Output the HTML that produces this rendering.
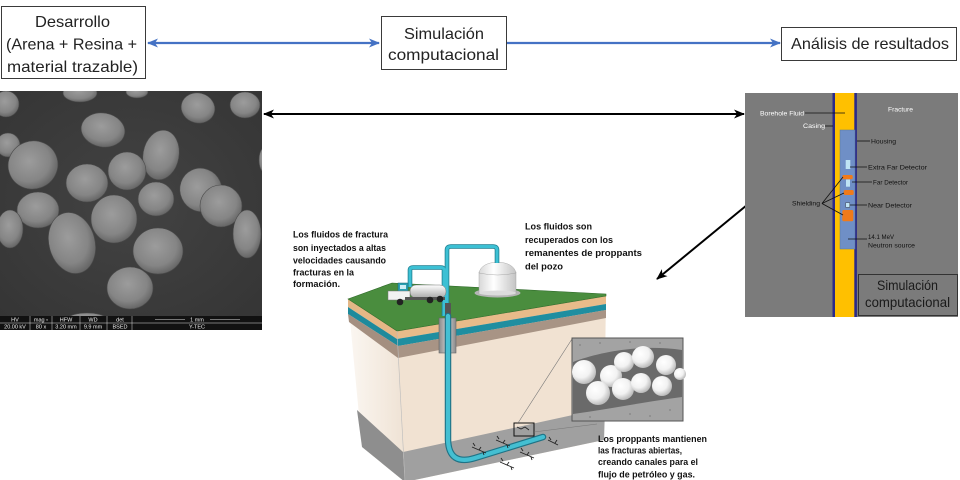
<!DOCTYPE html>
<html><head><meta charset="utf-8"><style>
html,body{margin:0;padding:0;background:#fff;}
svg{display:block;}
</style></head><body>
<svg width="960" height="480" viewBox="0 0 960 480" xmlns="http://www.w3.org/2000/svg">
<defs>
  <marker id="ab" markerUnits="userSpaceOnUse" markerWidth="11" markerHeight="10" refX="10" refY="5" orient="auto-start-reverse">
    <path d="M0,0.5 L11,5 L0,9.5 L3,5 Z" fill="#4472c4"/>
  </marker>
  <marker id="ak" markerUnits="userSpaceOnUse" markerWidth="11" markerHeight="10" refX="10" refY="5" orient="auto-start-reverse">
    <path d="M0,0.5 L11,5 L0,9.5 L3,5 Z" fill="#000"/>
  </marker>
  <radialGradient id="blob" cx="45%" cy="40%" r="60%">
    <stop offset="0" stop-color="#9c9c9c"/>
    <stop offset="0.7" stop-color="#858585"/>
    <stop offset="1" stop-color="#666"/>
  </radialGradient>
  <radialGradient id="semBg" cx="50%" cy="50%" r="70%">
    <stop offset="0" stop-color="#434343"/>
    <stop offset="1" stop-color="#353535"/>
  </radialGradient>
  <radialGradient id="sph" cx="38%" cy="35%" r="65%">
    <stop offset="0" stop-color="#ffffff"/>
    <stop offset="0.6" stop-color="#f2f2f2"/>
    <stop offset="1" stop-color="#bdbdbd"/>
  </radialGradient>
  <linearGradient id="casing" x1="0" x2="1" y1="0" y2="0">
    <stop offset="0" stop-color="#8a8a8a"/>
    <stop offset="0.5" stop-color="#d0d0d0"/>
    <stop offset="1" stop-color="#8a8a8a"/>
  </linearGradient>
  <linearGradient id="tank" x1="0" x2="0" y1="0" y2="1">
    <stop offset="0" stop-color="#ffffff"/>
    <stop offset="1" stop-color="#a9a9a9"/>
  </linearGradient>
  <linearGradient id="domeg" x1="0" x2="1" y1="0" y2="0">
    <stop offset="0" stop-color="#d8d8d8"/>
    <stop offset="0.4" stop-color="#ffffff"/>
    <stop offset="1" stop-color="#c4c4c4"/>
  </linearGradient>
  <linearGradient id="leftCream" x1="0" x2="1" y1="0" y2="0">
    <stop offset="0" stop-color="#fbf7f2"/>
    <stop offset="1" stop-color="#efe2d4"/>
  </linearGradient>
  <clipPath id="semClip"><rect x="0" y="91" width="262" height="226"/></clipPath>
</defs>

<!-- ===== Top flow boxes ===== -->
<rect x="1.5" y="6.5" width="144" height="72" fill="#fff" stroke="#3a3a3a" stroke-width="1"/>
<g font-family="Liberation Sans, Arial, sans-serif" font-size="16" fill="#222">
  <text x="35" y="27" textLength="75" lengthAdjust="spacingAndGlyphs">Desarrollo</text>
  <text x="6" y="49.5" textLength="131" lengthAdjust="spacingAndGlyphs">(Arena + Resina +</text>
  <text x="7" y="72" textLength="131" lengthAdjust="spacingAndGlyphs">material trazable)</text>
</g>
<rect x="381.5" y="16.5" width="125" height="53" fill="#fff" stroke="#3a3a3a" stroke-width="1"/>
<g font-family="Liberation Sans, Arial, sans-serif" font-size="16" fill="#222">
  <text x="404" y="39" textLength="80" lengthAdjust="spacingAndGlyphs">Simulación</text>
  <text x="388" y="60" textLength="111" lengthAdjust="spacingAndGlyphs">computacional</text>
</g>
<rect x="781.5" y="27.5" width="175" height="33" fill="#fff" stroke="#3a3a3a" stroke-width="1"/>
<text x="791" y="49" font-family="Liberation Sans, Arial, sans-serif" font-size="16" fill="#222" textLength="158" lengthAdjust="spacingAndGlyphs">Análisis de resultados</text>

<!-- blue arrows -->
<line x1="148" y1="43" x2="379" y2="43" stroke="#4472c4" stroke-width="2.2" marker-start="url(#ab)" marker-end="url(#ab)"/>
<line x1="507" y1="43" x2="780" y2="43" stroke="#4472c4" stroke-width="2.2" marker-end="url(#ab)"/>

<!-- ===== SEM image ===== -->
<rect x="0" y="91" width="262" height="226" fill="url(#semBg)"/>
<g fill="url(#blob)" stroke="#4a4a4a" stroke-width="0.6" clip-path="url(#semClip)">
  <ellipse cx="6" cy="104" rx="13" ry="13"/>
  <ellipse cx="80" cy="93" rx="17" ry="9"/>
  <ellipse cx="137" cy="92" rx="11" ry="6"/>
  <ellipse cx="198" cy="108" rx="17" ry="15" transform="rotate(15 198 108)"/>
  <ellipse cx="245" cy="105" rx="15" ry="13"/>
  <ellipse cx="103" cy="130" rx="22" ry="17" transform="rotate(10 103 130)"/>
  <ellipse cx="8" cy="145" rx="12" ry="12"/>
  <ellipse cx="33" cy="165" rx="25" ry="24" transform="rotate(-20 33 165)"/>
  <ellipse cx="161" cy="155" rx="18" ry="25" transform="rotate(10 161 155)"/>
  <ellipse cx="127" cy="171" rx="19" ry="19"/>
  <ellipse cx="87" cy="183" rx="21" ry="19"/>
  <ellipse cx="156" cy="199" rx="18" ry="17"/>
  <ellipse cx="201" cy="190" rx="21" ry="22" transform="rotate(-25 201 190)"/>
  <ellipse cx="221" cy="206" rx="21" ry="21"/>
  <ellipse cx="38" cy="210" rx="21" ry="18"/>
  <ellipse cx="114" cy="219" rx="23" ry="24"/>
  <ellipse cx="10" cy="229" rx="13" ry="19"/>
  <ellipse cx="72" cy="243" rx="23" ry="31" transform="rotate(-15 72 243)"/>
  <ellipse cx="247" cy="234" rx="14" ry="24"/>
  <ellipse cx="158" cy="251" rx="25" ry="23"/>
  <ellipse cx="130" cy="288" rx="23" ry="21"/>
  <ellipse cx="87" cy="318" rx="18" ry="5"/>
  <ellipse cx="264" cy="160" rx="5" ry="12"/>
</g>
<!-- info bar -->
<rect x="0" y="316" width="262" height="14" fill="#111"/>
<g stroke="#ddd" stroke-width="0.5">
  <line x1="0" y1="323" x2="262" y2="323"/>
  <line x1="30" y1="316" x2="30" y2="330"/>
  <line x1="52" y1="316" x2="52" y2="330"/>
  <line x1="80" y1="316" x2="80" y2="330"/>
  <line x1="107" y1="316" x2="107" y2="330"/>
  <line x1="132" y1="316" x2="132" y2="330"/>
  <line x1="155" y1="319.5" x2="185" y2="319.5"/>
  <line x1="210" y1="319.5" x2="240" y2="319.5"/>
</g>
<g font-family="Liberation Sans, Arial, sans-serif" font-size="5.5" fill="#eee" text-anchor="middle">
  <text x="15" y="321.5">HV</text><text x="41" y="321.5">mag ▫</text><text x="66" y="321.5">HFW</text>
  <text x="93" y="321.5">WD</text><text x="120" y="321.5">det</text><text x="197" y="321.5">1 mm</text>
  <text x="15" y="328.5">20.00 kV</text><text x="41" y="328.5">80 x</text><text x="66" y="328.5">3.20 mm</text>
  <text x="93" y="328.5">9.9 mm</text><text x="120" y="328.5">BSED</text><text x="197" y="328.5">Y-TEC</text>
</g>

<!-- black arrows -->
<line x1="264" y1="114" x2="744" y2="114" stroke="#000" stroke-width="2" marker-start="url(#ak)" marker-end="url(#ak)"/>
<line x1="747" y1="205" x2="657" y2="279" stroke="#000" stroke-width="2" marker-end="url(#ak)"/>

<!-- ===== Right simulation panel ===== -->
<rect x="745" y="93" width="213" height="224" fill="#7b7b7b"/>
<rect x="835" y="93" width="19.5" height="224" fill="#ffc000"/>
<rect x="832.5" y="93" width="2.5" height="224" fill="#2b2a8a"/>
<rect x="854.3" y="93" width="2.6" height="224" fill="#2b2a8a"/>
<rect x="840" y="130" width="15" height="119" fill="#6f8fc6" stroke="#5a7a9a" stroke-width="0.5"/>
<rect x="845.7" y="160" width="4.6" height="9" fill="#bfe4f5"/>
<rect x="842.3" y="175" width="10.4" height="4.3" rx="1.5" fill="#f07a1a"/>
<rect x="846" y="179.5" width="4" height="7.2" fill="#bfe4f5"/>
<rect x="843.7" y="190" width="10" height="5" rx="1.5" fill="#f07a1a"/>
<rect x="845.7" y="202.7" width="4" height="4.6" fill="#bfe4f5" stroke="#333" stroke-width="0.4"/>
<rect x="842.3" y="210" width="11" height="11.3" rx="1.5" fill="#f07a1a"/>
<g stroke="#111" stroke-width="0.8" fill="none">
  <line x1="805" y1="113" x2="845" y2="113"/>
  <line x1="825" y1="126" x2="833" y2="126"/>
  <line x1="857" y1="141" x2="870" y2="141"/>
  <line x1="850" y1="167" x2="867" y2="167"/>
  <line x1="852" y1="182" x2="872" y2="182"/>
  <line x1="850" y1="205" x2="867" y2="205"/>
  <line x1="848" y1="239" x2="867" y2="239"/>
  <line x1="822" y1="203.5" x2="843" y2="177"/>
  <line x1="822" y1="203.5" x2="844" y2="193"/>
  <line x1="822" y1="203.5" x2="843" y2="215"/>
</g>
<g font-family="Liberation Sans, Arial, sans-serif" font-size="6.5">
  <text x="760" y="115.5" fill="#fff" textLength="44" lengthAdjust="spacingAndGlyphs">Borehole Fluid</text>
  <text x="888" y="111.5" fill="#fff" textLength="25" lengthAdjust="spacingAndGlyphs">Fracture</text>
  <text x="803" y="128" fill="#fff" textLength="22" lengthAdjust="spacingAndGlyphs">Casing</text>
  <text x="871" y="143.3" fill="#111" textLength="25" lengthAdjust="spacingAndGlyphs">Housing</text>
  <text x="868" y="169.5" fill="#111" textLength="59" lengthAdjust="spacingAndGlyphs">Extra Far Detector</text>
  <text x="873" y="184.5" fill="#111" textLength="35" lengthAdjust="spacingAndGlyphs">Far Detector</text>
  <text x="792" y="205.5" fill="#111" textLength="28" lengthAdjust="spacingAndGlyphs">Shielding</text>
  <text x="868" y="207.3" fill="#111" textLength="44" lengthAdjust="spacingAndGlyphs">Near Detector</text>
  <text x="868" y="239" fill="#111" textLength="26" lengthAdjust="spacingAndGlyphs">14.1 MeV</text>
  <text x="868" y="247.3" fill="#111" textLength="47" lengthAdjust="spacingAndGlyphs">Neutron source</text>
</g>
<rect x="858.5" y="274.5" width="99" height="41" fill="#7b7b7b" stroke="#333" stroke-width="1"/>
<g font-family="Liberation Sans, Arial, sans-serif" font-size="14" fill="#1a1a1a">
  <text x="877" y="290" textLength="61" lengthAdjust="spacingAndGlyphs">Simulación</text>
  <text x="865" y="307" textLength="85" lengthAdjust="spacingAndGlyphs">computacional</text>
</g>

<!-- ===== Fracking block ===== -->
<polygon points="348,299 397,331 405,482 362,447" fill="url(#leftCream)"/>
<polygon points="348,299 397,331 397,339 348,307" fill="#e4b786"/>
<polygon points="348,307 397,339 398,346 348,314" fill="#1d8a9c"/>
<polygon points="348,314 398,346 398,358 349,322" fill="#a48f80"/>
<polygon points="357,410 403,452 405,482 362,447" fill="#8e8e8e"/>
<polygon points="397,331 606,296 604,440 405,482" fill="#f1e2d2"/>
<polygon points="397,331 606,296 606,304 397,339" fill="#e8bb8a"/>
<polygon points="397,339 606,304 606,310 398,346" fill="#1f8ea0"/>
<polygon points="398,346 606,310 606,318 398,358" fill="#a89485"/>
<polygon points="403,452 605,408 604,440 405,482" fill="#a0a0a0"/>
<polygon points="348,299 392,283 606,294 606,296 397,331" fill="#4a8d3e" stroke="#2f6a2a" stroke-width="0.6"/>
<line x1="397" y1="331" x2="405" y2="482" stroke="#bbb" stroke-width="0.6"/>

<!-- dome -->
<ellipse cx="497.5" cy="293" rx="23" ry="4.5" fill="#b5b5b5"/>
<rect x="479" y="272" width="37" height="21" fill="url(#domeg)" stroke="#999" stroke-width="0.4"/>
<ellipse cx="497.5" cy="293" rx="18.5" ry="2.5" fill="#dcdcdc"/>
<path d="M479,273 Q481,263 497.5,262 Q514,263 516,273 Q497.5,277 479,273 Z" fill="url(#domeg)" stroke="#999" stroke-width="0.4"/>

<!-- surface pipes -->
<g fill="none" stroke="#1f7f90" stroke-width="4.6" stroke-linejoin="round">
  <path d="M410,287 V270 Q410,267.5 413,267.5 H441 Q444,267.5 444,270 V316"/>
  <path d="M447,316 V250 Q447,246.5 451,246.5 H493 Q497,246.5 497,250 V263"/>
</g>
<g fill="none" stroke="#3cc0d4" stroke-width="3" stroke-linejoin="round">
  <path d="M410,287 V270 Q410,267.5 413,267.5 H441 Q444,267.5 444,270 V316"/>
  <path d="M447,316 V250 Q447,246.5 451,246.5 H493 Q497,246.5 497,250 V263"/>
</g>

<!-- truck -->
<rect x="410" y="285" width="36" height="13" rx="6" fill="url(#tank)" stroke="#777" stroke-width="0.5"/>
<rect x="398" y="283" width="10" height="10" fill="#2a9fb0" stroke="#1b6470" stroke-width="0.5"/>
<rect x="400" y="285" width="6" height="4" fill="#cfeef5"/>
<rect x="388" y="291" width="22" height="9" fill="#f2f2f2" stroke="#777" stroke-width="0.5"/>
<rect x="405" y="297" width="40" height="3" fill="#555"/>
<circle cx="400" cy="302" r="3.3" fill="#222"/>
<circle cx="430" cy="300" r="3.3" fill="#222"/>
<circle cx="440" cy="299" r="3.3" fill="#222"/>

<!-- casing and downhole pipe -->
<rect x="445" y="303" width="6" height="15" fill="#555"/>
<rect x="439" y="318" width="17" height="35" fill="url(#casing)" stroke="#666" stroke-width="0.6"/>
<path d="M448,316 L448,440 Q449,466 475,458 L543,437" fill="none" stroke="#1f7386" stroke-width="6.5" stroke-linecap="round"/>
<path d="M448,316 L448,440 Q449,466 475,458 L543,437" fill="none" stroke="#44bfd2" stroke-width="4.2" stroke-linecap="round"/>

<!-- fractures -->
<g stroke="#222" stroke-width="0.9" fill="none">
  <path d="M472,447 l14,6 M475,446 l-2,-3 M479,450 l2,-3 M483,452 l1,3"/>
  <path d="M496,440 l14,6 M499,439 l-2,-3 M503,443 l2,-3 M507,445 l1,3"/>
  <path d="M500,462 l14,6 M503,461 l-2,-3 M507,465 l2,-3 M511,467 l1,3"/>
  <path d="M520,452 l14,6 M523,451 l-2,-3 M527,455 l2,-3 M531,457 l1,3"/>
  <path d="M548,440 l10,5 M551,440 l-2,-3 M555,443 l2,-3"/>
</g>
<rect x="514" y="423" width="20" height="13" fill="none" stroke="#111" stroke-width="1"/>
<path d="M517,427 l4,2 l4,-2 l4,3" stroke="#222" stroke-width="0.8" fill="none"/>

<!-- zoom lines -->
<line x1="518" y1="423" x2="572" y2="339" stroke="#777" stroke-width="0.6"/>
<line x1="534" y1="432" x2="597" y2="424" stroke="#777" stroke-width="0.6"/>

<!-- inset -->
<rect x="572" y="338" width="111" height="83" fill="#a3a3a3" stroke="#555" stroke-width="1"/>
<g fill="#8a8a8a">
  <circle cx="580" cy="345" r="1"/><circle cx="600" cy="343" r="1"/><circle cx="630" cy="342" r="1"/>
  <circle cx="660" cy="343" r="1"/><circle cx="590" cy="417" r="1"/><circle cx="630" cy="414" r="1"/>
  <circle cx="670" cy="410" r="1"/><circle cx="650" cy="416" r="1"/>
</g>
<path d="M573,362 C600,352 640,344 682,350 L682,397 C650,401 610,409 573,414 Z" fill="#6a6a6a"/>
<g fill="url(#sph)">
  <circle cx="584" cy="372" r="12"/>
  <circle cx="611" cy="376" r="11"/>
  <circle cx="624" cy="362" r="10"/>
  <circle cx="643" cy="357" r="11"/>
  <circle cx="598" cy="393" r="12"/>
  <circle cx="623" cy="389" r="11"/>
  <circle cx="641" cy="383" r="10"/>
  <circle cx="666" cy="365" r="10"/>
  <circle cx="662" cy="386" r="10"/>
  <circle cx="680" cy="374" r="6"/>
</g>

<!-- labels -->
<g font-family="Liberation Sans, Arial, sans-serif" font-size="9.5" font-weight="bold" fill="#111">
  <text x="293" y="237.5" textLength="95" lengthAdjust="spacingAndGlyphs">Los fluidos de fractura</text>
  <text x="293" y="251" textLength="93" lengthAdjust="spacingAndGlyphs">son inyectados a altas</text>
  <text x="293" y="263.5" textLength="93" lengthAdjust="spacingAndGlyphs">velocidades causando</text>
  <text x="293" y="275.5" textLength="61" lengthAdjust="spacingAndGlyphs">fracturas en la</text>
  <text x="293" y="287" textLength="47" lengthAdjust="spacingAndGlyphs">formación.</text>

  <text x="525" y="229.5" textLength="67" lengthAdjust="spacingAndGlyphs">Los fluidos son</text>
  <text x="525" y="242.8" textLength="88" lengthAdjust="spacingAndGlyphs">recuperados con los</text>
  <text x="525" y="256.2" textLength="117" lengthAdjust="spacingAndGlyphs">remanentes de proppants</text>
  <text x="525" y="269.5" textLength="38" lengthAdjust="spacingAndGlyphs">del pozo</text>

  <text x="598" y="441.8" textLength="109" lengthAdjust="spacingAndGlyphs">Los proppants mantienen</text>
  <text x="598" y="453.5" textLength="84" lengthAdjust="spacingAndGlyphs">las fracturas abiertas,</text>
  <text x="598" y="465.2" textLength="100" lengthAdjust="spacingAndGlyphs">creando canales para el</text>
  <text x="598" y="477.5" textLength="97" lengthAdjust="spacingAndGlyphs">flujo de petróleo y gas.</text>
</g>
</svg>
</body></html>
